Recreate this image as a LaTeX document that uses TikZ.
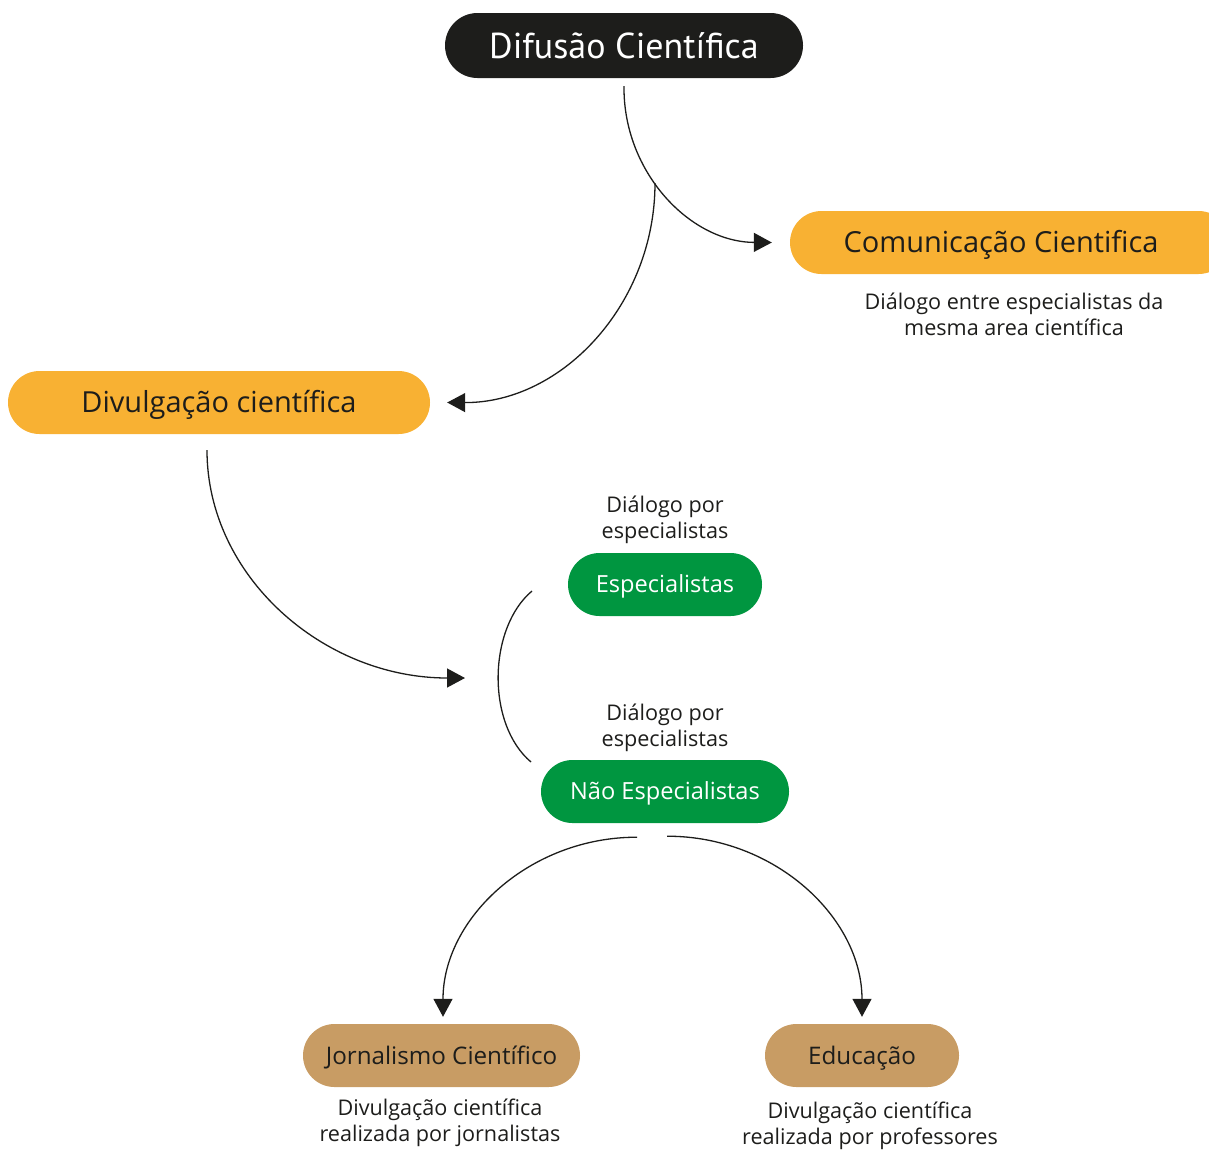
\documentclass[tikz,border=0pt]{standalone}
\usepackage{fontspec}
\setmainfont{Open Sans}
\newfontfamily\titlefont{PT Sans}
\usetikzlibrary{arrows.meta}
\definecolor{inkblack}{HTML}{1D1D1B}
\definecolor{amber}{HTML}{F8B133}
\definecolor{leaf}{HTML}{009640}
\definecolor{sand}{HTML}{C89C64}
\tikzset{
  pill/.style={rounded corners=31.5pt, minimum height=63pt, inner sep=0pt, anchor=center},
  toppill/.style={pill, fill=inkblack, text=white, minimum width=358pt, minimum height=65pt, rounded corners=32.5pt,
    text height=32pt, text depth=6.8pt, font=\titlefont\fontsize{36}{40}\selectfont},
  maintext/.style={text height=26pt, text depth=5.3pt, font=\fontsize{29}{33}\selectfont},
  mainpill/.style={pill, fill=amber, text=inkblack, maintext},
  greenpill/.style={pill, fill=leaf, text=white, text height=21pt, text depth=4.2pt, font=\fontsize{23.6}{27}\selectfont},
  sandpill/.style={pill, fill=sand, text=inkblack, text height=21.5pt, text depth=4.3pt, font=\fontsize{24.2}{28}\selectfont},
  note/.style={align=center, text=inkblack, inner sep=0pt, font=\fontsize{21.6}{26}\selectfont},
  link/.style={draw=inkblack, line width=1.3pt},
  arrowlink/.style={link, -{Triangle[length=18pt,width=19pt]}}
}
\begin{document}
\begin{tikzpicture}[x=1pt,y=-1pt]
  \useasboundingbox (0,0) rectangle (1209,1149);

  % boxes
  \node[toppill] (dif) at (624,45.5) {Difusão Científica};
  \node[mainpill, minimum width=440pt] (com) at (1010,242.5) {};
  \node[pill, text=inkblack, maintext] (comtxt) at (1001,242.5) {Comunicação Cientifica};
  \node[mainpill, minimum width=422pt] (div) at (219,402.5) {Divulgação científica};
  \node[greenpill, minimum width=194pt] (esp) at (665,584.5) {Especialistas};
  \node[greenpill, minimum width=248pt] (nesp) at (665,791.5) {Não Especialistas};
  \node[sandpill, minimum width=277pt] (jor) at (441.5,1055.5) {Jornalismo Científico};
  \node[sandpill, minimum width=194pt] (edu) at (862,1055.5) {Educação};

  % notes
  \node[note] (comnote) at (1014,314) {Diálogo entre especialistas da\\mesma area científica};
  \node[note] (espnote) at (665,520) {Diálogo por\\especialistas};
  \node[note] (nespnote) at (665,728) {Diálogo por\\especialistas};
  \node[note] (jornote) at (440,1123) {Divulgação científica\\realizada por jornalistas};
  \node[note] (edunote) at (870,1126) {Divulgação científica\\realizada por professores};

  % connectors
  \draw[arrowlink] ([yshift=-8pt]dif.south) .. controls (623,172) and (690,242) .. ([xshift=-18pt]com.west |- com.center);
  \coordinate (branch) at (655,183);
  \draw[arrowlink] (branch) .. controls (655,304) and (562,403) .. ([xshift=17pt]div.east);
  \coordinate (bendend) at (465,678);
  \draw[arrowlink] ([xshift=-12pt,yshift=-16pt]div.south) .. controls (207,576) and (323,678) .. (bendend);
  \coordinate (arcs) at (532,591);
  \coordinate (arce) at (531,762);
  \draw[link] (arcs) .. controls (488,628) and (486,724) .. (arce);
  \draw[arrowlink] ([xshift=-28pt,yshift=-14pt]nesp.south) .. controls (530,837) and (443,918) .. ([xshift=1.5pt,yshift=7pt]jor.north);
  \draw[arrowlink] ([xshift=2pt,yshift=-13pt]nesp.south) .. controls (775,836) and (862,918) .. ([yshift=7pt]edu.north);
\end{tikzpicture}
\end{document}
